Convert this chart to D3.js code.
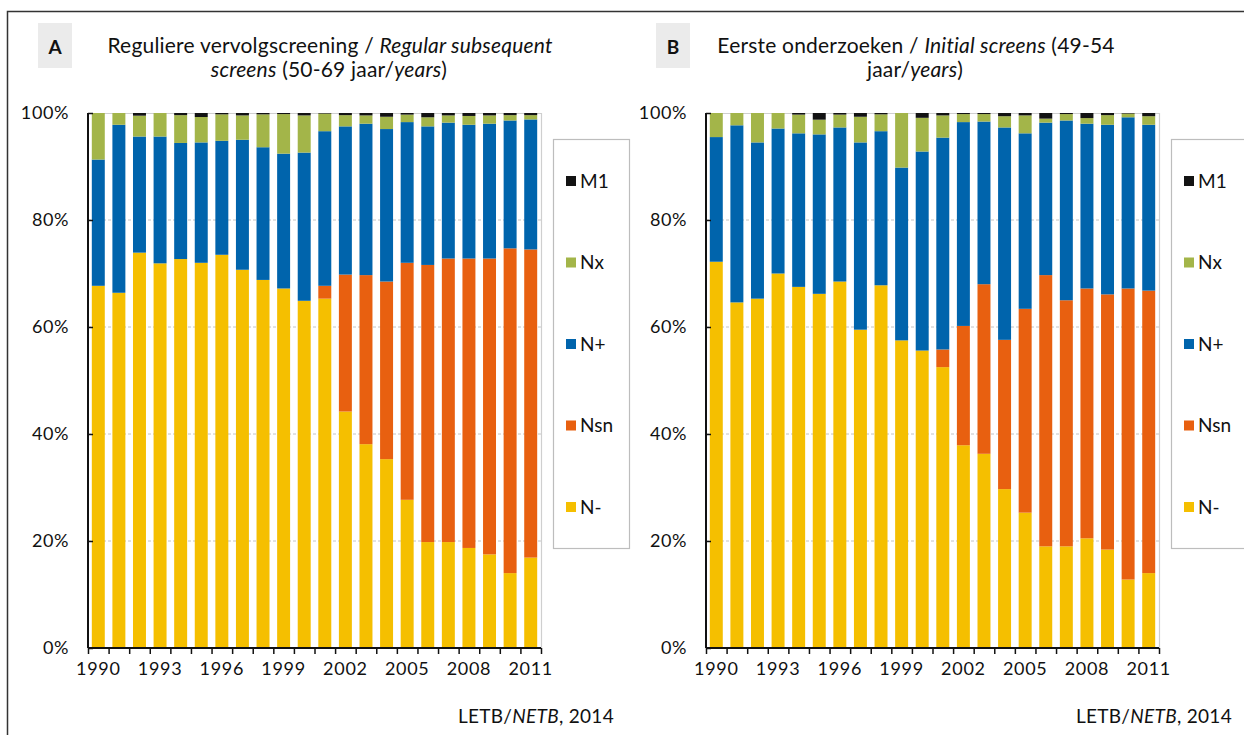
<!DOCTYPE html>
<html>
<head>
<meta charset="utf-8">
<script src="https://cdn.jsdelivr.net/npm/d3@7"></script>
<style>
  body { margin: 0; background: #fff; }
  svg text { font-family: Lato, "Open Sans", sans-serif; fill: #111; }
</style>
</head>
<body>
<svg width="1244" height="735"></svg>
<script>
// categories
const years = [1990, 1991, 1992, 1993, 1994, 1995, 1996, 1997, 1998, 1999, 2000,
  2001, 2002, 2003, 2004, 2005, 2006, 2007, 2008, 2009, 2010, 2011]
const yearLabels = [1990, 1993, 1996, 1999, 2002, 2005, 2008, 2011]
const yTicks = [0, 20, 40, 60, 80, 100]
const seriesKeys = ["N-", "Nsn", "N+", "Nx", "M1"]
const legendKeys = ["M1", "Nx", "N+", "Nsn", "N-"]

// panel A: regular subsequent screens (%)
const negA = [67.7, 66.4, 73.9, 71.9, 72.7, 72.0, 73.5, 70.7, 68.8, 67.2, 64.9,
  65.3, 44.2, 38.1, 35.3, 27.7, 19.8, 19.8, 18.7, 17.5, 14.0, 16.9]
const nsnA = [0, 0, 0, 0, 0, 0, 0, 0, 0, 0, 0,
  2.4, 25.6, 31.6, 33.2, 44.3, 51.8, 53.0, 54.1, 55.3, 60.7, 57.6]
const posA = [23.6, 31.4, 21.7, 23.7, 21.7, 22.5, 21.3, 24.3, 24.8, 25.2, 27.7,
  28.9, 27.7, 28.3, 28.5, 26.3, 25.9, 25.4, 25.0, 25.2, 23.9, 24.3]
const nxA = [8.7, 2.2, 3.9, 4.4, 5.2, 4.75, 4.95, 4.55, 6.15, 7.4, 6.95,
  3.3, 2.1, 1.55, 2.3, 1.4, 1.7, 1.35, 1.65, 1.55, 1.0, 0.8]
const m1A = [0, 0, 0.5, 0, 0.4, 0.75, 0.25, 0.45, 0.25, 0.2, 0.45,
  0.1, 0.4, 0.45, 0.7, 0.3, 0.8, 0.45, 0.55, 0.45, 0.4, 0.4]

// panel B: initial screens (%)
const negB = [72.2, 64.6, 65.3, 70.0, 67.5, 66.2, 68.5, 59.5, 67.8, 57.5, 55.6,
  52.5, 37.9, 36.3, 29.7, 25.3, 19.0, 19.0, 20.5, 18.4, 12.8, 14.0]
const nsnB = [0, 0, 0, 0, 0, 0, 0, 0, 0, 0, 0,
  3.3, 22.3, 31.7, 27.9, 38.1, 50.7, 46.0, 46.7, 47.7, 54.4, 52.8]
const posB = [23.3, 33.1, 29.2, 27.1, 28.7, 29.8, 28.8, 35.0, 28.8, 32.3, 37.2,
  39.6, 38.1, 30.4, 39.7, 32.8, 28.5, 33.6, 30.8, 31.7, 32.0, 31.0]
const nxB = [4.5, 2.3, 5.5, 2.9, 3.5, 2.75, 2.4, 4.8, 3.15, 10.2, 6.3,
  4.15, 1.5, 1.4, 2.1, 3.35, 0.75, 1.2, 1.05, 1.8, 0.7, 1.6]
const m1B = [0, 0, 0, 0, 0.3, 1.25, 0.3, 0.7, 0.25, 0, 0.9,
  0.45, 0.2, 0.2, 0.6, 0.45, 1.05, 0.2, 0.95, 0.4, 0.1, 0.6]

const colors = {"N-": "#f5bf00", "Nsn": "#e86010", "N+": "#0064ac", "Nx": "#a3b549", "M1": "#131313"}

const svg = d3.select("svg")

// outer frame (top and left)
svg.append("path")
  .attr("d", "M7.5,735 L7.5,11.5 L1244,11.5")
  .attr("fill", "none")
  .attr("stroke", "#333")
  .attr("stroke-width", 1.5)

function buildRows(neg, nsn, pos, nx, m1) {
  return years.map((yr, i) => ({year: yr, "N-": neg[i], "Nsn": nsn[i], "N+": pos[i], "Nx": nx[i], "M1": m1[i]}))
}

function drawPanel(opts) {
  const left = opts.left, top = 113, w = 453, h = 535
  const g = svg.append("g").attr("transform", "translate(" + left + "," + top + ")")

  const x = d3.scaleBand().domain(years).range([0, w]).paddingInner(0.37).paddingOuter(0.185)
  const xEdge = d3.scaleLinear().domain([0, years.length]).range([0, w])
  const y = d3.scaleLinear().domain([0, 100]).range([h, 0])

  // grid
  g.selectAll(".grid").data([20, 40, 60, 80]).enter().append("line")
    .attr("x1", 0).attr("x2", w)
    .attr("y1", d => y(d)).attr("y2", d => y(d))
    .attr("stroke", "#c4c4c4").attr("stroke-dasharray", "3,2").attr("stroke-width", 1)
  g.append("path")
    .attr("d", "M0," + (y(100) + 0.5) + " L" + (w + 0.5) + "," + (y(100) + 0.5) + " L" + (w + 0.5) + "," + h)
    .attr("fill", "none").attr("stroke", "#cfcfcf").attr("stroke-width", 1.2)

  // bars
  const stacked = d3.stack().keys(seriesKeys)(opts.rows)
  g.selectAll(".series").data(stacked).enter().append("g")
    .attr("fill", d => colors[d.key])
    .selectAll("rect").data(d => d).enter().append("rect")
    .attr("x", d => x(d.data.year))
    .attr("width", x.bandwidth())
    .attr("y", d => y(d[1]))
    .attr("height", d => Math.max(0, y(d[0]) - y(d[1])))

  // y axis
  const yAxis = g.append("g")
    .call(d3.axisLeft(y).tickValues(yTicks).tickFormat(d => d + "%").tickSize(-5).tickPadding(19))
  yAxis.select(".domain").attr("stroke", "#111").attr("stroke-width", 2).attr("d", "M0,0V" + h)
  yAxis.selectAll(".tick line").attr("stroke", "#111").attr("stroke-width", 1.5)
  yAxis.selectAll("text").style("font-size", "18px").style("letter-spacing", "0.6px").attr("fill", "#111")

  // x axis: ticks at band edges, labels every third year
  const xTicks = g.append("g").attr("transform", "translate(0," + h + ")")
    .call(d3.axisBottom(xEdge).tickValues(d3.range(years.length + 1)).tickFormat("").tickSize(6))
  xTicks.select(".domain").attr("stroke", "#111").attr("stroke-width", 2).attr("d", "M0,0H" + w)
  xTicks.selectAll(".tick line").attr("stroke", "#111").attr("stroke-width", 1.5)

  const xLabels = g.append("g").attr("transform", "translate(0," + h + ")")
    .call(d3.axisBottom(x).tickValues(yearLabels).tickSize(0).tickPadding(14))
  xLabels.select(".domain").remove()
  xLabels.selectAll("text").style("font-size", "18px").style("letter-spacing", "0.7px").attr("fill", "#111")

  // legend
  const lg = svg.append("g").attr("transform", "translate(" + (left + 465) + ",139)")
  lg.append("rect").attr("x", 0.5).attr("y", 0.5).attr("width", 76).attr("height", 409)
    .attr("fill", "#fff").attr("stroke", "#bdbdbd").attr("stroke-width", 1.2)
  const item = lg.selectAll(".item").data(legendKeys).enter().append("g")
    .attr("transform", (d, i) => "translate(13," + (42 + i * 81.5) + ")")
  item.append("rect").attr("x", 0).attr("y", -5).attr("width", 10).attr("height", 10).attr("fill", d => colors[d])
  item.append("text").attr("x", 14).attr("y", 6.5).style("font-size", "19px").text(d => d)

  // panel letter
  svg.append("rect").attr("x", left - 50).attr("y", 23).attr("width", 34).attr("height", 45).attr("fill", "#ebebeb")
  svg.append("text").attr("x", left - 33).attr("y", 54).attr("text-anchor", "middle")
    .style("font-size", "19px").style("font-weight", "bold").text(opts.letter)

  // title lines
  opts.title.forEach((line, li) => {
    const t = svg.append("text").attr("x", line.cx).attr("y", 53 + li * 24)
      .attr("text-anchor", "middle").style("font-size", "21px").style("letter-spacing", "0.2px")
    line.parts.forEach(p => {
      t.append("tspan").style("font-style", p[1] ? "italic" : "normal").text(p[0])
    })
  })

  // source
  const src = svg.append("text").attr("x", left + 526).attr("y", 723).attr("text-anchor", "end")
    .style("font-size", "19px").style("letter-spacing", "0.3px")
  src.append("tspan").text("LETB/")
  src.append("tspan").style("font-style", "italic").text("NETB")
  src.append("tspan").text(", 2014")
}

drawPanel({
  left: 88, letter: "A", rows: buildRows(negA, nsnA, posA, nxA, m1A),
  title: [
    {cx: 330, parts: [["Reguliere vervolgscreening / ", false], ["Regular subsequent", true]]},
    {cx: 329, parts: [["screens", true], [" (50-69 jaar/", false], ["years", true], [")", false]]}
  ]
})
drawPanel({
  left: 706, letter: "B", rows: buildRows(negB, nsnB, posB, nxB, m1B),
  title: [
    {cx: 916, parts: [["Eerste onderzoeken / ", false], ["Initial screens", true], [" (49-54", false]]},
    {cx: 915, parts: [["jaar/", false], ["years", true], [")", false]]}
  ]
})
</script>
</body>
</html>
